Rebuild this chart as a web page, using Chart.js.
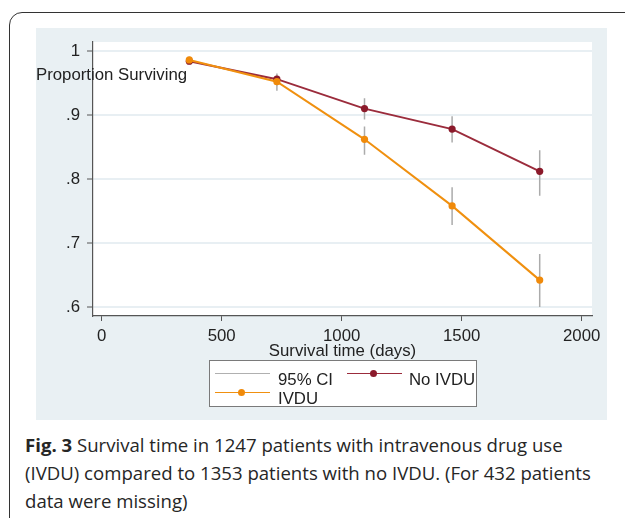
<!DOCTYPE html>
<html>
<head>
<meta charset="utf-8">
<script src="https://cdn.jsdelivr.net/npm/chart.js@4.4.1/dist/chart.umd.min.js"></script>
<style>
  html, body { margin: 0; padding: 0; width: 625px; height: 518px; overflow: hidden; background: #ffffff; }
  #frame { position: absolute; left: 9px; top: 12px; width: 1000px; height: 1000px; border: 1.5px solid #333333; border-radius: 13px; box-sizing: border-box; }
  #panel { position: absolute; left: 36px; top: 28px; width: 571px; height: 392px; background: #e9f0f3; }
  #chart { position: absolute; left: 0; top: 0; }
  .stata { position: absolute; font-family: "Liberation Sans", Arial, sans-serif; font-size: 16.8px; color: #222222; white-space: nowrap; line-height: 17px; }
  #ytitle { left: 36px; top: 66px; }
  #legend { position: absolute; left: 209px; top: 360px; width: 268px; height: 47px; background: #ffffff; border: 1px solid #7a7a7a; box-sizing: border-box; }
  .lline { position: absolute; height: 0; }
  .ldot { position: absolute; width: 7px; height: 7px; border-radius: 50%; }
  #caption { position: absolute; left: 25px; top: 431px; font-family: "Open Sans", sans-serif; font-size: 18.6px; line-height: 28px; color: #262626; white-space: nowrap; }
</style>
</head>
<body>
<div id="frame"></div>
<div id="panel"></div>
<canvas id="chart" width="625" height="420"></canvas>
<div class="stata" id="ytitle">Proportion Surviving</div>
<div id="legend"></div>
<div class="lline" style="left:215px; top:373px; width:55px; border-top:1.5px solid #b0b0b0;"></div>
<div class="stata" style="left:278px; top:371px;">95% CI</div>
<div class="lline" style="left:347px; top:373px; width:55px; border-top:1.8px solid #9b2c3c;"></div>
<div class="ldot" style="left:370px; top:370px; background:#8b1a2b;"></div>
<div class="stata" style="left:409px; top:371px;">No IVDU</div>
<div class="lline" style="left:215px; top:392px; width:55px; border-top:1.8px solid #f0900f;"></div>
<div class="ldot" style="left:238px; top:389px; background:#f08a0a;"></div>
<div class="stata" style="left:278px; top:390px;">IVDU</div>
<div id="caption"><b>Fig. 3</b> Survival time in 1247 patients with intravenous drug use<br>(IVDU) compared to 1353 patients with no IVDU. (For 432 patients<br>data were missing)</div>
<script>
// ---- data ----
const days      = [365, 730, 1095, 1460, 1825];
const noIvdu    = [0.984, 0.956, 0.910, 0.878, 0.812];
const noIvduLo  = [0.979, 0.946, 0.893, 0.857, 0.774];
const noIvduHi  = [0.989, 0.965, 0.926, 0.898, 0.845];
const ivdu      = [0.986, 0.952, 0.862, 0.758, 0.642];
const ivduLo    = [0.981, 0.938, 0.838, 0.728, 0.600];
const ivduHi    = [0.991, 0.963, 0.882, 0.787, 0.683];
const xTickValues = [0, 500, 1000, 1500, 2000];
const xTickLabels = ['0', '500', '1000', '1500', '2000'];
const yTickValues = [0.6, 0.7, 0.8, 0.9, 1.0];
const yTickLabels = ['.6', '.7', '.8', '.9', '1'];

function pts(xs, ys) { return xs.map((x, i) => ({ x: x, y: ys[i] })); }
function ciPts(xs, lo, hi) {
  const out = [];
  xs.forEach((x, i) => { out.push({ x: x, y: lo[i] }, { x: x, y: hi[i] }, { x: x, y: null }); });
  return out;
}

const plotBg = {
  id: 'plotBg',
  beforeDraw(chart) {
    const a = chart.chartArea, ctx = chart.ctx;
    ctx.save(); ctx.fillStyle = '#ffffff';
    ctx.fillRect(a.left, a.top, a.right - a.left, a.bottom - a.top);
    ctx.restore();
  }
};

Chart.defaults.font.family = '"Liberation Sans", Arial, sans-serif';
Chart.defaults.font.size = 16.8;
Chart.defaults.color = '#222222';

new Chart(document.getElementById('chart'), {
  type: 'line',
  data: {
    datasets: [
      { label: 'IVDU', data: pts(days, ivdu), borderColor: '#f0900f', backgroundColor: '#f08a0a',
        borderWidth: 2, pointRadius: 3.6, pointBorderWidth: 0, tension: 0 },
      { label: 'No IVDU', data: pts(days, noIvdu), borderColor: '#9b2c3c', backgroundColor: '#8b1a2b',
        borderWidth: 2, pointRadius: 3.6, pointBorderWidth: 0, tension: 0 },
      { label: '95% CI', data: ciPts(days, noIvduLo, noIvduHi), borderColor: '#ababab',
        borderWidth: 1.5, pointRadius: 0, spanGaps: false },
      { label: '95% CI ', data: ciPts(days, ivduLo, ivduHi), borderColor: '#ababab',
        borderWidth: 1.5, pointRadius: 0, spanGaps: false }
    ]
  },
  options: {
    responsive: false,
    animation: false,
    devicePixelRatio: 1,
    layout: { padding: { left: 36, top: 42, right: 33, bottom: 0 } },
    plugins: { legend: { display: false }, tooltip: { enabled: false } },
    scales: {
      x: {
        type: 'linear', min: -36.25, max: 2042.9,
        afterBuildTicks(s) { s.ticks = xTickValues.map(v => ({ value: v })); },
        afterFit(s) { s.height = 104; },
        ticks: { callback: (v) => xTickLabels[xTickValues.indexOf(v)], padding: 5, maxRotation: 0, autoSkip: false, color: '#222222' },
        grid: { display: true, drawOnChartArea: false, drawTicks: true, tickLength: 5, tickColor: '#555555', tickWidth: 1 },
        border: { display: true, color: '#555555', width: 1.2 },
        title: { display: true, text: 'Survival time (days)', color: '#222222', font: { size: 16.8 }, padding: { top: 0, bottom: 59 } }
      },
      y: {
        type: 'linear', min: 0.5859375, max: 1.0140625,
        afterBuildTicks(s) { s.ticks = yTickValues.map(v => ({ value: v })); },
        afterFit(s) { s.width = 57; },
        ticks: { callback: (v) => yTickLabels[yTickValues.findIndex(t => Math.abs(t - v) < 1e-9)], padding: 7, autoSkip: false, color: '#222222' },
        grid: { display: true, drawOnChartArea: true, color: '#e8eff3', lineWidth: 2, drawTicks: true, tickLength: 6, tickColor: '#555555', tickWidth: 1 },
        border: { display: true, color: '#555555', width: 1.2 }
      }
    }
  },
  plugins: [plotBg]
});
</script>
</body>
</html>
